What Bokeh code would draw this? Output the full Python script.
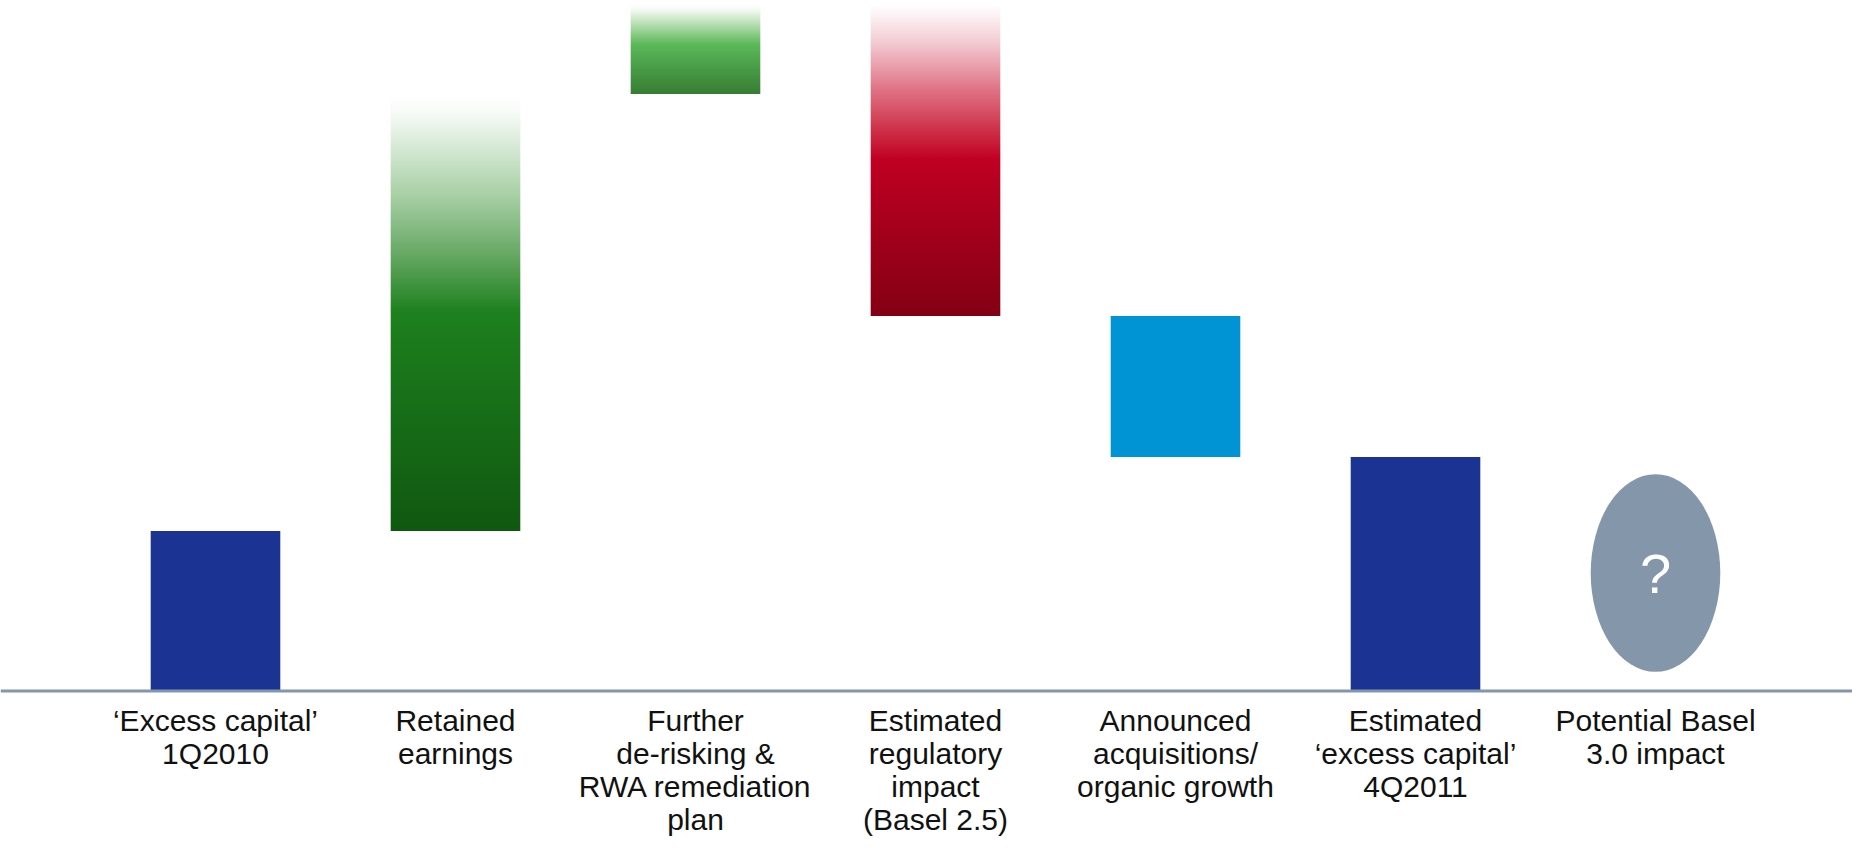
import numpy as np
from bokeh.plotting import figure
from bokeh.models import Range1d, Span
from bokeh.core.properties import value
from bokeh.embed import file_html
from bokeh.resources import INLINE

# ---- data ----
categories = [
    "\u2018Excess capital\u2019\n1Q2010",
    "Retained\nearnings",
    "Further\nde-risking &\nRWA remediation\nplan",
    "Estimated\nregulatory\nimpact\n(Basel 2.5)",
    "Announced\nacquisitions/\norganic growth",
    "Estimated\n\u2018excess capital\u2019\n4Q2011",
    "Potential Basel\n3.0 impact",
]
start_capital = 16.0                 # 'Excess capital' 1Q2010
changes = [43.7, 9.0, -31.2, -14.1]  # retained, de-risking, regulatory, acquisitions
end_capital = 23.4                   # 'excess capital' 4Q2011
basel3_range = [1.9, 21.7]           # unknown Basel 3.0 impact (drawn as "?")

# ---- styles ----
NAVY = "#1b3494"
CYAN = "#0094d4"
GREY = "#8497aa"
BAR_W = 0.54

gradients = {
    1: [(0.0, (255, 255, 255)), (0.04, (248, 251, 248)), (0.23, (168, 208, 166)),
        (0.36, (106, 170, 103)), (0.5, (29, 128, 30)), (1.0, (16, 88, 16))],
    2: [(0.0, (255, 255, 255)), (0.06, (245, 250, 244)), (0.24, (175, 220, 170)),
        (0.45, (90, 184, 88)), (1.0, (55, 125, 52))],
    3: [(0.0, (255, 255, 255)), (0.03, (252, 244, 246)), (0.12, (243, 205, 212)),
        (0.28, (222, 112, 130)), (0.41, (205, 45, 70)), (0.5, (192, 0, 34)),
        (0.71, (165, 0, 28)), (1.0, (132, 0, 20))],
}


def gradient_image(stops, n=512):
    img = np.empty((n, 2), dtype=np.uint32)
    view = img.view(dtype=np.uint8).reshape((n, 2, 4))
    t_top = 1.0 - (np.arange(n) + 0.5) / n  # row 0 is the bottom of the bar
    pos = [s[0] for s in stops]
    for ch in range(3):
        vals = np.interp(t_top, pos, [s[1][ch] for s in stops])
        view[:, :, ch] = np.round(vals).astype(np.uint8)[:, None]
    view[:, :, 3] = 255
    return img


# ---- waterfall geometry from the data ----
bottoms, tops = [0.0], [start_capital]
cum = start_capital
for c in changes:
    bottoms.append(min(cum, cum + c))
    tops.append(max(cum, cum + c))
    cum += c
bottoms.append(0.0)
tops.append(end_capital)

p = figure(width=1852, height=846,
           x_range=Range1d(-0.8958, 6.8208), y_range=Range1d(-15.55, 69.05),
           x_axis_type=None, y_axis_type=None,
           output_backend="svg", toolbar_location=None, min_border=0)
p.grid.visible = False
p.outline_line_color = None
p.background_fill_color = "white"
p.border_fill_color = "white"

solid_x = [0, 4, 5]
solid_colors = [NAVY, CYAN, NAVY]
p.vbar(x=solid_x, width=BAR_W,
       bottom=[bottoms[i] for i in solid_x], top=[tops[i] for i in solid_x],
       fill_color=solid_colors, line_color=None)

for i, stops in gradients.items():
    p.image_rgba(image=[gradient_image(stops)], x=i - BAR_W / 2, y=bottoms[i],
                 dw=BAR_W, dh=tops[i] - bottoms[i])

# Potential Basel 3.0 impact: unknown, drawn as an ellipse with "?"
b_mid = (basel3_range[0] + basel3_range[1]) / 2
p.ellipse(x=[6], y=[b_mid], width=BAR_W, height=basel3_range[1] - basel3_range[0],
          fill_color=GREY, line_color=None)
p.text(x=[6], y=[b_mid], text=["?"], text_align="center", text_baseline="middle",
       text_font=value("Liberation Sans"), text_font_size="56px", text_color="white")

# baseline
p.add_layout(Span(location=0, dimension="width", line_color=GREY, line_width=3))

# category labels
p.text(x=list(range(len(categories))), y=[-1.3] * len(categories), text=categories,
       text_align="center", text_baseline="top",
       text_font=value("Liberation Sans"), text_font_size="30px",
       text_line_height=1.0, text_color="#111111")

open("out.html", "w").write(file_html(p, INLINE))
